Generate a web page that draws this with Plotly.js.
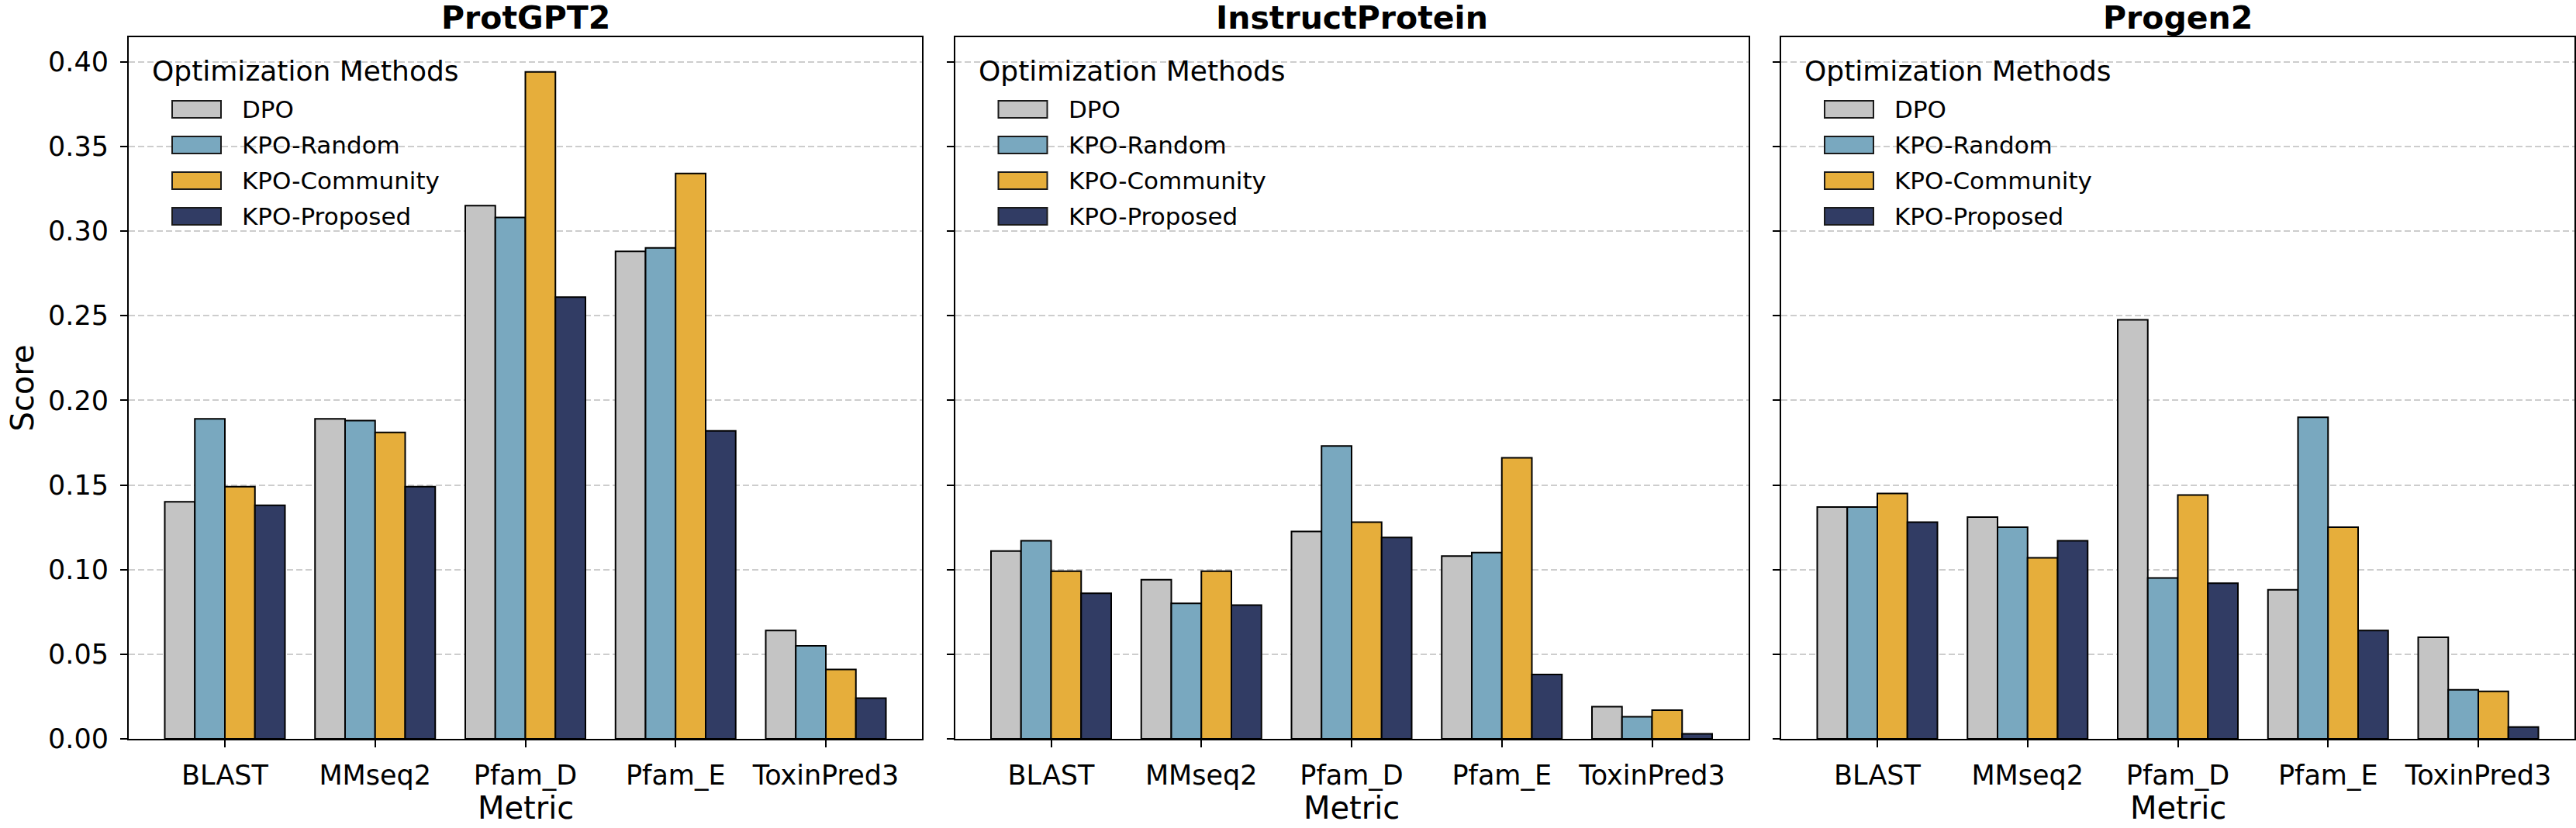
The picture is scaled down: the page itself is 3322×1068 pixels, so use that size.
<!DOCTYPE html>
<html>
<head>
<meta charset="utf-8">
<script src="https://cdn.plot.ly/plotly-3.0.1.min.js"></script>
<style>
html, body { margin: 0; padding: 0; background: #ffffff; }
#chart { width: 3322px; height: 1068px; }
</style>
</head>
<body>
<div id="chart"></div>
<script>
// ---------------- data ----------------
const metrics = ['BLAST', 'MMseq2', 'Pfam_D', 'Pfam_E', 'ToxinPred3'];
const methods = ['DPO', 'KPO-Random', 'KPO-Community', 'KPO-Proposed'];
const models = ['ProtGPT2', 'InstructProtein', 'Progen2'];

const protgpt2_DPO       = [0.140, 0.189, 0.315, 0.288, 0.064];
const protgpt2_Random    = [0.189, 0.188, 0.308, 0.290, 0.055];
const protgpt2_Community = [0.149, 0.181, 0.394, 0.334, 0.041];
const protgpt2_Proposed  = [0.138, 0.149, 0.261, 0.182, 0.024];

const instruct_DPO       = [0.111, 0.094, 0.1225, 0.108, 0.019];
const instruct_Random    = [0.117, 0.080, 0.173, 0.110, 0.013];
const instruct_Community = [0.099, 0.099, 0.128, 0.166, 0.017];
const instruct_Proposed  = [0.086, 0.079, 0.119, 0.038, 0.003];

const progen2_DPO        = [0.137, 0.131, 0.2475, 0.088, 0.060];
const progen2_Random     = [0.137, 0.125, 0.095, 0.190, 0.029];
const progen2_Community  = [0.145, 0.107, 0.144, 0.125, 0.028];
const progen2_Proposed   = [0.128, 0.117, 0.092, 0.064, 0.007];

const yTickVals   = [0.00, 0.05, 0.10, 0.15, 0.20, 0.25, 0.30, 0.35, 0.40];
const yTickLabels = ['0.00', '0.05', '0.10', '0.15', '0.20', '0.25', '0.30', '0.35', '0.40'];

const yAxisTitle = 'Score';
const xAxisTitle = 'Metric';
const legendTitle = 'Optimization Methods';

// ---------------- styling ----------------
const colors = ['#c4c4c4', '#79a8bf', '#e6ae3b', '#313c64'];
const FONT = 'DejaVu Sans, Liberation Sans, sans-serif';
const W = 3322, H = 1068;
const px = v => v / W;
const py = v => 1 - v / H;

const panelData = [
  [protgpt2_DPO, protgpt2_Random, protgpt2_Community, protgpt2_Proposed],
  [instruct_DPO, instruct_Random, instruct_Community, instruct_Proposed],
  [progen2_DPO, progen2_Random, progen2_Community, progen2_Proposed]
];

const panelLeft  = [166, 1231.5, 2297];
const panelRight = [1189, 2254.5, 3320];
const plotTop = 48, plotBottom = 953;

const traces = [];
panelData.forEach((series, p) => {
  const sfx = p === 0 ? '' : String(p + 1);
  series.forEach((vals, m) => {
    traces.push({
      type: 'bar',
      x: metrics,
      y: vals,
      name: methods[m],
      xaxis: 'x' + sfx,
      yaxis: 'y' + sfx,
      showlegend: false,
      marker: { color: colors[m], line: { color: '#000000', width: 2 } },
      hoverinfo: 'x+y+name'
    });
  });
});

const layout = {
  width: W,
  height: H,
  margin: { l: 0, r: 0, t: 0, b: 0, pad: 0 },
  paper_bgcolor: '#ffffff',
  plot_bgcolor: '#ffffff',
  barmode: 'group',
  bargap: 0.2,
  bargroupgap: 0,
  showlegend: false,
  font: { family: FONT, color: '#000000' },
  annotations: [],
  shapes: []
};

for (let p = 0; p < 3; p++) {
  const sfx = p === 0 ? '' : String(p + 1);
  layout['xaxis' + sfx] = {
    domain: [px(panelLeft[p]), px(panelRight[p])],
    anchor: 'y' + sfx,
    type: 'category',
    range: [-0.64, 4.64],
    showline: true, linecolor: '#000000', linewidth: 2, mirror: true,
    ticks: 'outside', ticklen: 9, tickwidth: 2, tickcolor: '#000000',
    ticklabelstandoff: 6,
    tickfont: { family: FONT, size: 35, color: '#000000' },
    showgrid: false, zeroline: false, fixedrange: true
  };
  layout['yaxis' + sfx] = {
    domain: [py(plotBottom), py(plotTop)],
    anchor: 'x' + sfx,
    range: [0, 0.4145],
    tickmode: 'array', tickvals: yTickVals, ticktext: yTickLabels,
    showticklabels: p === 0,
    showline: true, linecolor: '#000000', linewidth: 2, mirror: true,
    ticks: 'outside', ticklen: 9, tickwidth: 2, tickcolor: '#000000',
    ticklabelstandoff: 8,
    tickfont: { family: FONT, size: 35, color: '#000000' },
    showgrid: true, gridcolor: '#cdcdcd', gridwidth: 2, griddash: '8px,4px',
    zeroline: false, fixedrange: true
  };

  const L = panelLeft[p];
  const cx = (panelLeft[p] + panelRight[p]) / 2;

  // panel title
  layout.annotations.push({
    xref: 'paper', yref: 'paper', x: px(cx), y: py(23),
    xanchor: 'center', yanchor: 'middle', showarrow: false,
    text: models[p], font: { family: FONT, size: 41, color: '#000000', weight: 'bold' }
  });
  // x axis title
  layout.annotations.push({
    xref: 'paper', yref: 'paper', x: px(cx), y: py(1042),
    xanchor: 'center', yanchor: 'middle', showarrow: false,
    text: xAxisTitle, font: { family: FONT, size: 40, color: '#000000' }
  });

  // legend (drawn per panel)
  layout.annotations.push({
    xref: 'paper', yref: 'paper', x: px(L + 28), y: py(92),
    xanchor: 'left', yanchor: 'middle', showarrow: false,
    text: legendTitle, font: { family: FONT, size: 36, color: '#000000' }
  });
  methods.forEach((name, i) => {
    const yc = 141 + 46 * i;
    layout.shapes.push({
      type: 'rect', xref: 'paper', yref: 'paper',
      x0: px(L + 56), x1: px(L + 119), y0: py(yc + 11), y1: py(yc - 11),
      fillcolor: colors[i], line: { color: '#1a1a1a', width: 2 }
    });
    layout.annotations.push({
      xref: 'paper', yref: 'paper', x: px(L + 144), y: py(yc),
      xanchor: 'left', yanchor: 'middle', showarrow: false,
      text: name, font: { family: FONT, size: 31, color: '#000000' }
    });
  });
}

// y axis title
layout.annotations.push({
  xref: 'paper', yref: 'paper', x: px(28), y: py(500.5),
  xanchor: 'center', yanchor: 'middle', showarrow: false, textangle: -90,
  text: yAxisTitle, font: { family: FONT, size: 40, color: '#000000' }
});

Plotly.newPlot('chart', traces, layout, { displayModeBar: false, staticPlot: true });
</script>
</body>
</html>
